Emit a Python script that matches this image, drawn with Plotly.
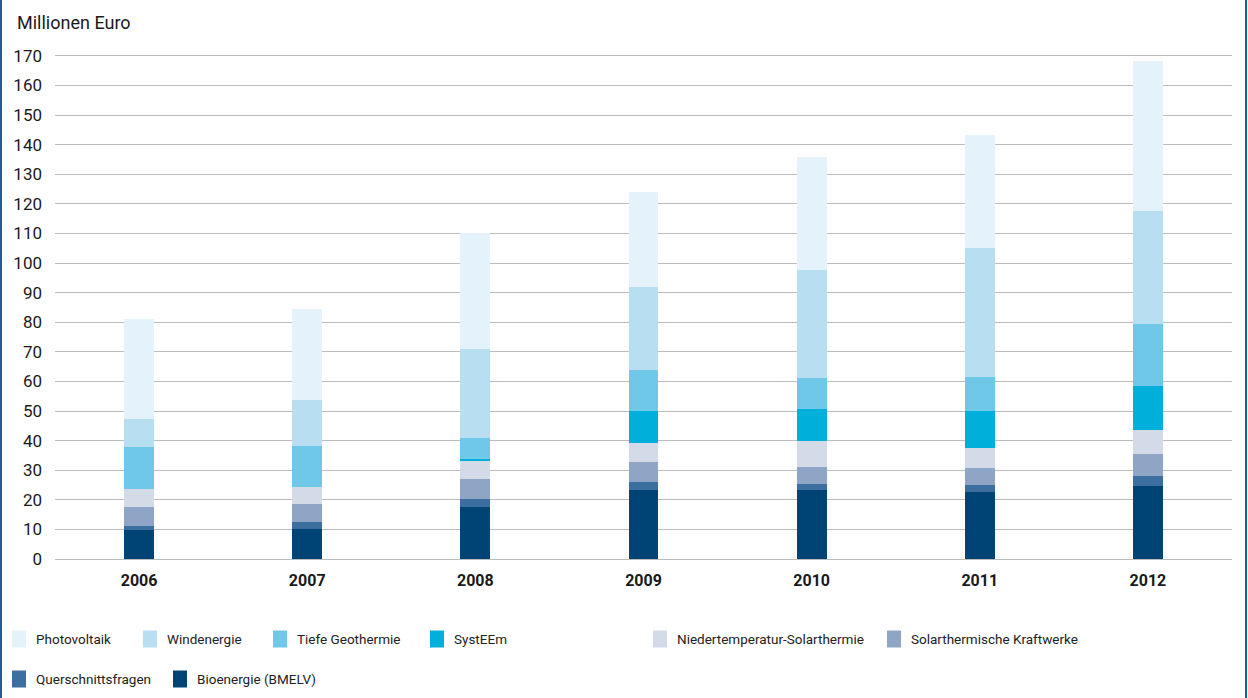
import plotly.graph_objects as go

# Forschungsförderung erneuerbare Energien, Millionen Euro
years = ["2006", "2007", "2008", "2009", "2010", "2011", "2012"]

bioenergie = [9.7, 10.0, 17.5, 23.3, 23.3, 22.7, 24.6]
querschnitt = [1.3, 2.5, 2.7, 2.6, 2.2, 2.4, 3.5]
solar_kraftwerke = [6.6, 6.2, 7.0, 6.9, 5.5, 5.5, 7.5]
niedertemperatur = [6.1, 5.5, 5.9, 6.4, 8.8, 6.9, 8.1]
systeem = [0.0, 0.0, 0.7, 10.7, 10.8, 12.4, 14.8]
geothermie = [14.2, 14.0, 7.0, 13.8, 10.5, 11.6, 21.0]
windenergie = [9.3, 15.6, 30.1, 28.2, 36.5, 43.7, 38.2]
photovoltaik = [33.9, 30.6, 39.3, 32.0, 38.4, 38.2, 50.6]

y_ticks = list(range(0, 171, 10))

# stacking order bottom -> top
series = [
    ("Bioenergie (BMELV)", bioenergie, "#004375"),
    ("Querschnittsfragen", querschnitt, "#3c6e9f"),
    ("Solarthermische Kraftwerke", solar_kraftwerke, "#8fa5c6"),
    ("Niedertemperatur-Solarthermie", niedertemperatur, "#d3dae8"),
    ("SystEEm", systeem, "#00b0da"),
    ("Tiefe Geothermie", geothermie, "#6fc8e8"),
    ("Windenergie", windenergie, "#b7dff1"),
    ("Photovoltaik", photovoltaik, "#e3f2fb"),
]

W, H = 1248, 698
L, R, T, B = 55, 16, 50, 139
PW, PH = W - L - R, H - T - B


def px_x(p):
    return (p - L) / PW


def px_y(p):
    return (H - B - p) / PH


fig = go.Figure()
for name, vals, color in series:
    fig.add_trace(go.Bar(
        x=years, y=vals, name=name,
        marker=dict(color=color, line=dict(width=0)),
        showlegend=False,
    ))

text_font = "Roboto, 'Open Sans', sans-serif"
legend_font = "Roboto, sans-serif"

# legend: order and placement of the entries
legend_order = ["Photovoltaik", "Windenergie", "Tiefe Geothermie", "SystEEm",
                "Niedertemperatur-Solarthermie", "Solarthermische Kraftwerke",
                "Querschnittsfragen", "Bioenergie (BMELV)"]
legend_pos = [(12, 639), (143, 639), (273, 639), (430, 639),
              (653, 639), (887, 639), (12, 679), (173, 679)]
colors = {n: c for n, _, c in series}

shapes = []
annotations = []
for name, (lx, ly) in zip(legend_order, legend_pos):
    shapes.append(dict(
        type="rect", xref="paper", yref="paper",
        x0=px_x(lx), x1=px_x(lx + 14), y0=px_y(ly + 8.5), y1=px_y(ly - 8.5),
        fillcolor=colors[name], line=dict(width=0), layer="above",
    ))
    annotations.append(dict(
        text=name, xref="paper", yref="paper",
        x=px_x(lx + 22), y=px_y(ly), xanchor="left", yanchor="middle",
        showarrow=False,
        font=dict(family=legend_font, size=13.5, color="#222222"),
    ))

# frame lines on left and right
for fx in (1, 1246):
    shapes.append(dict(
        type="line", xref="paper", yref="paper",
        x0=px_x(fx), x1=px_x(fx), y0=px_y(0), y1=px_y(H),
        line=dict(color="#1f5c99", width=2), layer="above",
    ))

annotations.append(dict(
    text="Millionen Euro", xref="paper", yref="paper",
    x=px_x(15), y=px_y(22), xanchor="left", yanchor="middle",
    showarrow=False, font=dict(family=text_font, size=18, color="#1a1a1a"),
))

fig.update_layout(
    width=W, height=H,
    margin=dict(l=L, r=R, t=T, b=B, pad=0),
    barmode="stack",
    bargap=0.822,
    plot_bgcolor="white",
    paper_bgcolor="white",
    shapes=shapes,
    annotations=annotations,
    xaxis=dict(
        type="category",
        showgrid=False, showline=False, zeroline=False,
        ticks="",
        tickfont=dict(family=text_font, size=16, color="#1a1a1a", weight="bold"),
        ticklabelstandoff=10,
    ),
    yaxis=dict(
        range=[0, 172],
        tickvals=y_ticks,
        showgrid=True, gridcolor="#bcbcbc", gridwidth=1.2,
        zeroline=True, zerolinecolor="#bcbcbc", zerolinewidth=1.2,
        showline=False, ticks="",
        tickfont=dict(family=text_font, size=17, color="#1a1a1a"),
        ticklabelstandoff=12,
    ),
)

fig.write_html("out.html")
